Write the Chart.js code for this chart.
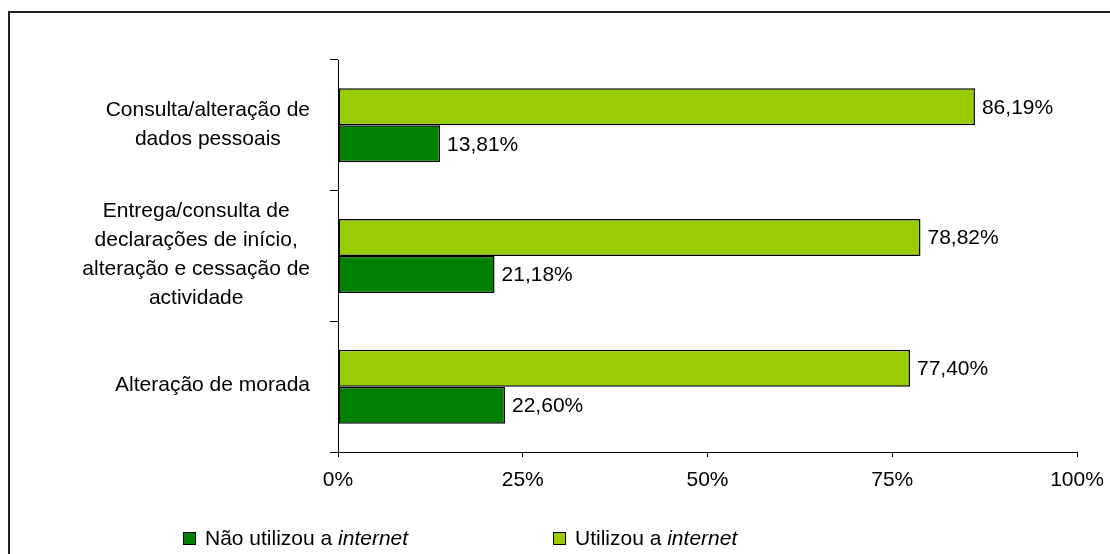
<!DOCTYPE html>
<html>
<head>
<meta charset="utf-8">
<script src="https://cdn.jsdelivr.net/npm/chart.js@4"></script>
<style>
  body { margin: 0; background: #fff; font-family: "Liberation Sans", Arial, sans-serif; }
  #wrap { position: relative; width: 1110px; height: 554px; overflow: hidden; }
  #frame { position: absolute; left: 8px; top: 11px; width: 1200px; height: 700px;
           border-left: 2px solid #222; border-top: 2px solid #222; }
  canvas { position: absolute; left: 0; top: 0; }
  #legend { position: absolute; left: 0; top: 526px; font-size: 21px; color: #000; }
  .item { position: absolute; white-space: nowrap; line-height: 24px; }
  .box { position: absolute; top: 6px; width: 11px; height: 11px; border: 1.5px solid #000; }
  .txt { position: absolute; left: 22px; top: 0; }
</style>
</head>
<body>
<div id="wrap">
  <div id="frame"></div>
  <canvas id="chart" width="1110" height="554"></canvas>
  <div id="legend"></div>
</div>
<script>
// categorias (linhas de cada rótulo)
const categories = [
    ['Consulta/alteração de', 'dados pessoais'],
    ['Entrega/consulta de', 'declarações de início,', 'alteração e cessação de', 'actividade'],
    ['Alteração de morada']
];
const utilizou = [86.19, 78.82, 77.40];
const naoUtilizou = [13.81, 21.18, 22.60];
const xTicks = [0, 25, 50, 75, 100];

const FONT = '21px "Liberation Sans", Arial, sans-serif';
const fmt = v => v.toFixed(2).replace('.', ',') + '%';

// rótulos das barras
const valueLabels = {
    id: 'valueLabels',
    afterDatasetsDraw(chart) {
        const ctx = chart.ctx;
        ctx.save();
        ctx.font = FONT;
        ctx.fillStyle = '#000';
        ctx.textAlign = 'left';
        ctx.textBaseline = 'middle';
        chart.data.datasets.forEach((ds, i) => {
            chart.getDatasetMeta(i).data.forEach((el, j) => {
                ctx.fillText(fmt(ds.data[j]), el.x + 7, el.y + 1);
            });
        });
        ctx.restore();
    }
};

// rótulos das categorias: cada bloco alinhado à direita, linhas centradas
const catLabels = {
    id: 'catLabels',
    afterDraw(chart) {
        const ctx = chart.ctx;
        const y = chart.scales.y;
        const right = 310, lh = 29;
        ctx.save();
        ctx.font = FONT;
        ctx.fillStyle = '#000';
        ctx.textAlign = 'center';
        ctx.textBaseline = 'middle';
        categories.forEach((lines, i) => {
            const w = Math.max(...lines.map(l => ctx.measureText(l).width));
            const cx = right - w / 2;
            const cy = y.getPixelForTick(i) - 1;
            lines.forEach((l, k) => {
                ctx.fillText(l, cx, cy - (lines.length - 1) * lh / 2 + k * lh);
            });
        });
        ctx.restore();
    }
};

const chart = new Chart(document.getElementById('chart'), {
    type: 'bar',
    data: {
        labels: categories,
        datasets: [
            { label: 'Utilizou a internet', data: utilizou, backgroundColor: '#99cc00' },
            { label: 'Não utilizou a internet', data: naoUtilizou, backgroundColor: '#008000' }
        ]
    },
    options: {
        indexAxis: 'y',
        responsive: false,
        animation: false,
        events: [],
        layout: { padding: { top: 60, right: 33, bottom: 0, left: 0 } },
        datasets: {
            bar: {
                categoryPercentage: 0.566,
                barPercentage: 1,
                borderColor: '#000',
                borderWidth: 1.5,
                borderSkipped: false
            }
        },
        scales: {
            x: {
                min: 0, max: 100,
                afterFit: s => { s.height = 102; s.paddingRight = 0; s.paddingLeft = 0; },
                afterBuildTicks: s => { s.ticks = xTicks.map(v => ({ value: v })); },
                ticks: {
                    padding: 11,
                    color: '#000',
                    font: { family: '"Liberation Sans", Arial, sans-serif', size: 21 },
                    callback: v => v + '%'
                },
                grid: { drawOnChartArea: false, tickLength: 5, color: '#000' },
                border: { color: '#000', width: 1 }
            },
            y: {
                afterFit: s => { s.width = 338; },
                ticks: { display: false },
                grid: { drawOnChartArea: false, tickLength: 8, color: '#000', offset: true },
                border: { color: '#000', width: 1 }
            }
        },
        plugins: {
            legend: { display: false },
            tooltip: { enabled: false }
        }
    },
    plugins: [valueLabels, catLabels]
});

// legenda em HTML (para o itálico de "internet")
const legendPos = [183, 553];
const legendEl = document.getElementById('legend');
chart.data.datasets.slice().reverse().forEach((ds, i) => {
    const item = document.createElement('div');
    item.className = 'item';
    item.style.left = legendPos[i] + 'px';
    const box = document.createElement('span');
    box.className = 'box';
    box.style.background = ds.backgroundColor;
    const txt = document.createElement('span');
    txt.className = 'txt';
    txt.innerHTML = ds.label.replace('internet', '<i>internet</i>');
    item.appendChild(box);
    item.appendChild(txt);
    legendEl.appendChild(item);
});
</script>
</body>
</html>
